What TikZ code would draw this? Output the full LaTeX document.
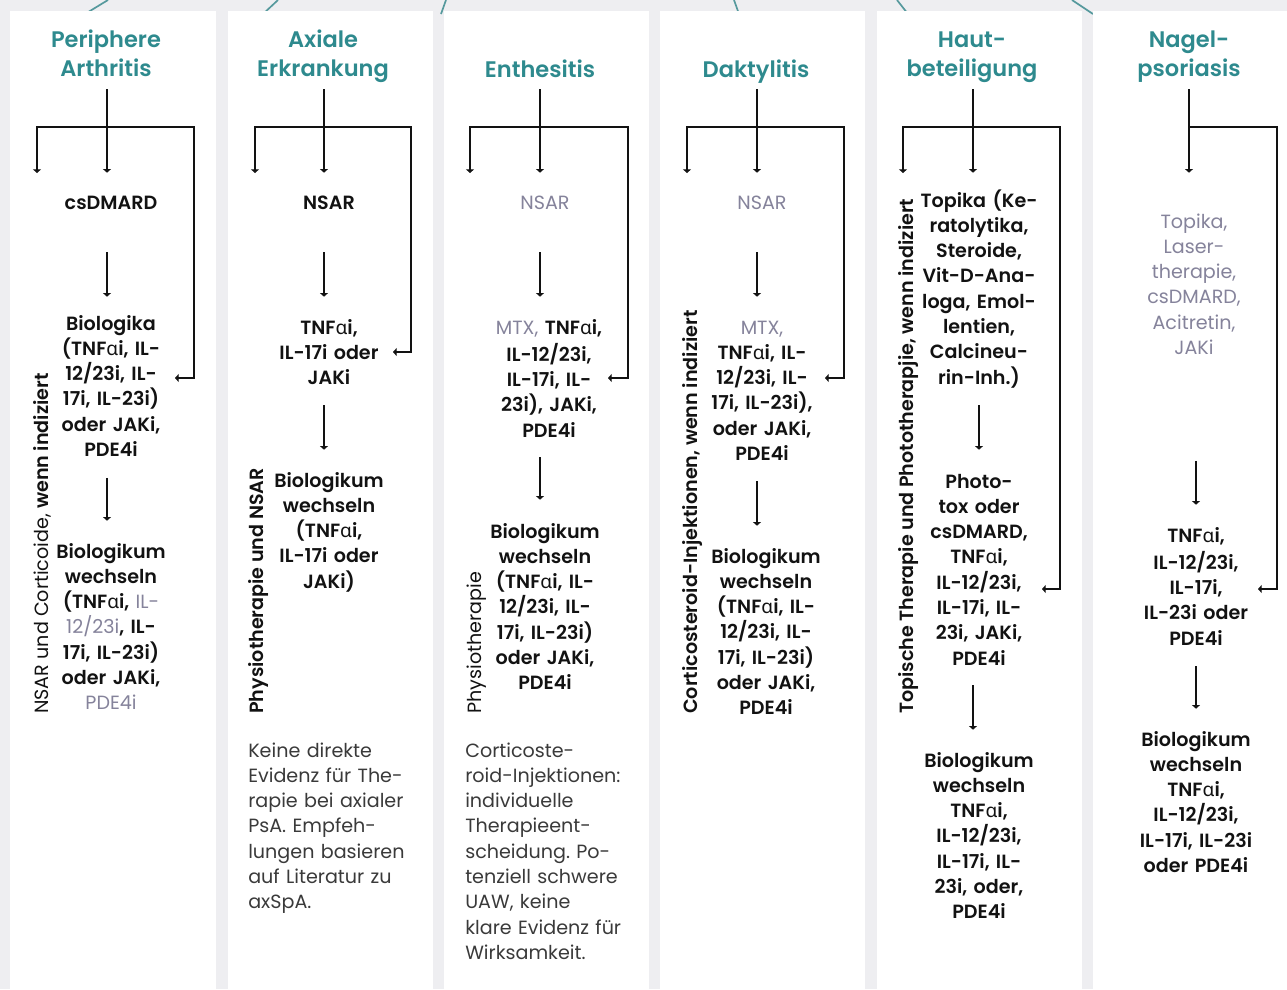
\documentclass[tikz,border=0pt]{standalone}
\usepackage{fontspec}
\setmainfont{Poppins}[BoldFont={Poppins SemiBold}]
\newfontfamily\greekfont{Noto Sans}
\usepackage{xcolor}
\usepackage{tikz}
\usetikzlibrary{arrows.meta}
\frenchspacing

\definecolor{pagegray}{HTML}{EEEEF1}
\definecolor{headteal}{HTML}{2E8A8E}
\definecolor{stubteal}{HTML}{56999D}
\definecolor{mutedgray}{HTML}{85839B}
\definecolor{notegray}{HTML}{3A3A3A}
\definecolor{inkblack}{HTML}{121212}

\newcommand{\pxu}{0.025cm}
\newcommand{\galpha}{{\greekfont\mdseries α}}
\newcommand{\muted}[1]{{\mdseries\color{mutedgray}#1}}
\newcommand{\bodyfont}{\fontsize{13.6}{18}\selectfont}

\begin{document}
\begin{tikzpicture}[
    x=0.025cm, y=-0.025cm,
    header/.style={anchor=base, inner sep=0pt, text width=5cm, align=center, text=headteal, font=\fontsize{16}{21.3}\selectfont\bfseries, execute at end node=\strut},
    blockbold/.style={anchor=base, inner sep=0pt, text width=5cm, align=center, text=inkblack, font=\bodyfont\bfseries, execute at begin node=\strut, execute at end node=\strut},
    blockmuted/.style={blockbold, font=\bodyfont, text=mutedgray},
    note/.style={anchor=base west, inner sep=0pt, text width=6.5cm, align=left, text=notegray, font=\bodyfont},
    sidelabel/.style={rotate=90, anchor=base west, inner sep=0pt, text=inkblack, font=\bodyfont},
    line/.style={draw=inkblack, line width=1.2pt},
    arr/.style={line, -{Triangle[length=2.6pt, width=5.6pt]}},
    stub/.style={draw=stubteal, line width=1.2pt},
    gapout/.style={shorten <=#1*\pxu},
    gapin/.style={shorten >=#1*\pxu},
]
\useasboundingbox (0,0) rectangle (1287,989);
\fill[pagegray] (0,0) rectangle (1287,989);
% connectors coming in from above
\foreach \xa/\xb in {108/85, 278/263, 446/441, 734/739, 897/908, 1072/1093}
  \draw[stub] (\xa,0) -- (\xb,14);
% white panels
\foreach \xl/\xr in {10/216, 228/433, 444/649, 660/865, 877/1082, 1093/1287}
  \fill[white] (\xl,11) rectangle (\xr,989);

% Column 1: Periphere Arthritis
\coordinate (j1) at (107,127);
\coordinate (l1) at (37,173);
\coordinate (k1) at (194,378);
\coordinate (t1) at (175,378);
\node[header] (h1) at (106,47) {Periphere\\Arthritis};
\node[blockbold] (a1) at (111,209) {csDMARD};
\node[blockbold] (b1) at (111,330) {Biologika\\(TNF\galpha{}i, IL-\\12/23i, IL-\\17i, IL-23i)\\oder JAKi,\\PDE4i};
\node[blockbold] (c1) at (111,558) {Biologikum\\wechseln\\(TNF\galpha{}i, \muted{IL-}\\\muted{12/23i}, IL-\\17i, IL-23i)\\oder JAKi,\\\muted{PDE4i}};
\node[sidelabel] (s1) at (48,714) {NSAR und Corticoide, \textbf{wenn indiziert}};
\draw[line, gapout=3] (h1.south -| j1) -- (j1);
\draw[arr] (j1) -| (l1);
\draw[arr, gapin=18.3] (j1) -- (a1.north -| j1);
\draw[arr] (j1) -| (k1) -- (t1);
\draw[arr, gapout=35.4, gapin=15.3] (a1.south -| j1) -- (b1.north -| j1);
\draw[arr, gapout=13.4, gapin=19.3] (b1.south -| j1) -- (c1.north -| j1);

% Column 2: Axiale Erkrankung
\coordinate (j2) at (324,127);
\coordinate (l2) at (255,173);
\coordinate (k2) at (411,352);
\coordinate (t2) at (393,352);
\node[header] (h2) at (323,47) {Axiale\\Erkrankung};
\node[blockbold] (a2) at (329,209) {NSAR};
\node[blockbold] (b2) at (329,334) {TNF\galpha{}i,\\IL-17i oder\\JAKi};
\node[blockbold] (c2) at (329,487) {Biologikum\\wechseln\\(TNF\galpha{}i,\\IL-17i oder\\JAKi)};
\node[sidelabel] (s2) at (263,714) {\textbf{Physiotherapie und NSAR}};
\node[note] (n2) at (248,757) {Keine direkte\\Evidenz für The-\\rapie bei axialer\\PsA. Empfeh-\\lungen basieren\\auf Literatur zu\\axSpA.};
\draw[line, gapout=3] (h2.south -| j2) -- (j2);
\draw[arr] (j2) -| (l2);
\draw[arr, gapin=18.3] (j2) -- (a2.north -| j2);
\draw[arr] (j2) -| (k2) -- (t2);
\draw[arr, gapout=35.4, gapin=19.3] (a2.south -| j2) -- (b2.north -| j2);
\draw[arr, gapout=12.8, gapin=19.3] (b2.south -| j2) -- (c2.north -| j2);

% Column 3: Enthesitis
\coordinate (j3) at (540,127);
\coordinate (l3) at (470,173);
\coordinate (k3) at (628,378);
\coordinate (t3) at (608,378);
\node[header] (h3) at (540,77) {Enthesitis};
\node[blockmuted] (a3) at (545,209) {NSAR};
\node[blockbold] (b3) at (549,334) {\muted{MTX,} TNF\galpha{}i,\\IL-12/23i,\\IL-17i, IL-\\23i), JAKi,\\PDE4i};
\node[blockbold] (c3) at (545,538) {Biologikum\\wechseln\\(TNF\galpha{}i, IL-\\12/23i, IL-\\17i, IL-23i)\\oder JAKi,\\PDE4i};
\node[sidelabel] (s3) at (481,714) {Physiotherapie};
\node[note] (n3) at (465,757) {Corticoste-\\roid-Injektionen:\\individuelle\\Therapieent-\\scheidung. Po-\\tenziell schwere\\UAW, keine\\klare Evidenz für\\Wirksamkeit.};
\draw[line, gapout=3] (h3.south -| j3) -- (j3);
\draw[arr] (j3) -| (l3);
\draw[arr, gapin=18.3] (j3) -- (a3.north -| j3);
\draw[arr] (j3) -| (k3) -- (t3);
\draw[arr, gapout=35.4, gapin=19.3] (a3.south -| j3) -- (b3.north -| j3);
\draw[arr, gapout=12.2, gapin=20.3] (b3.south -| j3) -- (c3.north -| j3);

% Column 4: Daktylitis
\coordinate (j4) at (757,127);
\coordinate (l4) at (687,173);
\coordinate (k4) at (844,378);
\coordinate (t4) at (825,378);
\node[header] (h4) at (756,77) {Daktylitis};
\node[blockmuted] (a4) at (762,209) {NSAR};
\node[blockbold] (b4) at (762,334) {\muted{MTX,}\\TNF\galpha{}i, IL-\\12/23i, IL-\\17i, IL-23i),\\oder JAKi,\\PDE4i};
\node[blockbold] (c4) at (766,563) {Biologikum\\wechseln\\(TNF\galpha{}i, IL-\\12/23i, IL-\\17i, IL-23i)\\oder JAKi,\\PDE4i};
\node[sidelabel] (s4) at (697,714) {\textbf{Corticosteroid-Injektionen, wenn indiziert}};
\draw[line, gapout=3] (h4.south -| j4) -- (j4);
\draw[arr] (j4) -| (l4);
\draw[arr, gapin=18.3] (j4) -- (a4.north -| j4);
\draw[arr] (j4) -| (k4) -- (t4);
\draw[arr, gapout=35.4, gapin=19.3] (a4.south -| j4) -- (b4.north -| j4);
\draw[arr, gapout=12.9, gapin=19.3] (b4.south -| j4) -- (c4.north -| j4);

% Column 5: Hautbeteiligung
\coordinate (j5) at (973,127);
\coordinate (l5) at (903,173);
\coordinate (k5) at (1060,589);
\coordinate (t5) at (1042,589);
\node[header] (h5) at (972,47) {Haut-\\beteiligung};
\node[blockbold] (a5) at (979,207) {Topika (Ke-\\ratolytika,\\Steroide,\\Vit-D-Ana-\\loga, Emol-\\lentien,\\Calcineu-\\rin-Inh.)};
\node[blockbold] (b5) at (979,488) {Photo-\\tox oder\\csDMARD,\\TNF\galpha{}i,\\IL-12/23i,\\IL-17i, IL-\\23i, JAKi,\\PDE4i};
\node[blockbold] (c5) at (979,767) {Biologikum\\wechseln\\TNF\galpha{}i,\\IL-12/23i,\\IL-17i, IL-\\23i, oder,\\PDE4i};
\node[sidelabel] (s5) at (913,714) {\textbf{Topische Therapie und Phototherapjie, wenn indiziert}};
\draw[line, gapout=3] (h5.south -| j5) -- (j5);
\draw[arr] (j5) -| (l5);
\draw[arr, gapin=16.3] (j5) -- (a5.north -| j5);
\draw[arr] (j5) -| (k5) -- (t5);
\draw[arr, gapout=13.4, gapin=20.3] (a5.south) -- (b5.north);
\draw[arr, gapout=12.4, gapin=19.3] (b5.south -| j5) -- (c5.north -| j5);

% Column 6: Nagelpsoriasis
\coordinate (j6) at (1189,127);
\coordinate (k6) at (1277,589);
\coordinate (t6) at (1258,589);
\node[header] (h6) at (1189,47) {Nagel-\\psoriasis};
\node[blockmuted] (a6) at (1194,228) {Topika,\\Laser-\\therapie,\\csDMARD,\\Acitretin,\\JAKi};
\node[blockbold] (b6) at (1196,542) {TNF\galpha{}i,\\IL-12/23i,\\IL-17i,\\IL-23i oder\\PDE4i};
\node[blockbold] (c6) at (1196,746) {Biologikum\\wechseln\\TNF\galpha{}i,\\IL-12/23i,\\IL-17i, IL-23i\\oder PDE4i};
\draw[arr, gapout=3, gapin=37.3] (h6.south -| j6) -- (a6.north -| j6);
\draw[arr] (j6) -| (k6) -- (t6);
\draw[arr, gapout=98.4, gapin=19.3] (a6.south -| b6) -- (b6.north);
\draw[arr, gapout=13.4, gapin=19.3] (b6.south) -- (c6.north);
\end{tikzpicture}
\end{document}
